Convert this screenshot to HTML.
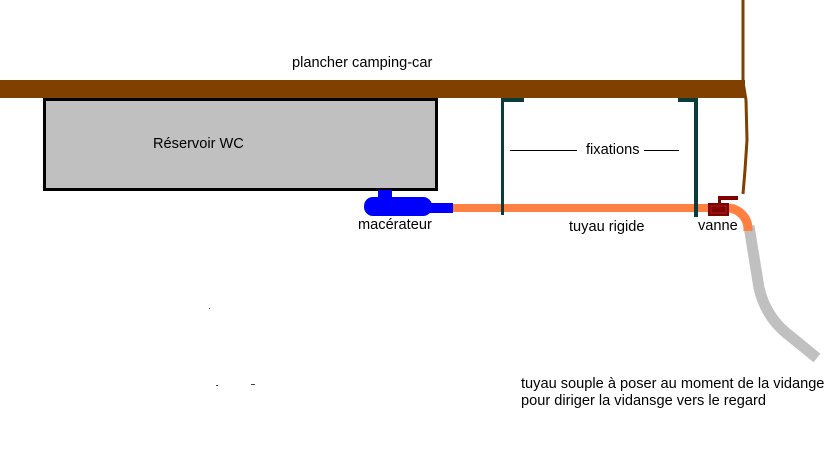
<!DOCTYPE html>
<html>
<head>
<meta charset="utf-8">
<style>
  html, body { margin:0; padding:0; background:#ffffff; }
  body { width:830px; height:466px; overflow:hidden; }
  svg { display:block; }
  text { font-family: "Liberation Sans", Arial, sans-serif; font-size:14.6px; fill:#000; }
</style>
</head>
<body>
<svg width="830" height="466" viewBox="0 0 830 466" xmlns="http://www.w3.org/2000/svg">
  <rect x="0" y="0" width="830" height="466" fill="#ffffff"/>

  <!-- vertical brown wall line -->
  <path d="M743 0 L743 82 L746 100 L747 140 L745 170 L743 194" fill="none" stroke="#7f4000" stroke-width="3"/>

  <!-- floor -->
  <rect x="0" y="80" width="745" height="18" fill="#7f4000"/>
  <text x="292" y="67">plancher camping-car</text>

  <!-- tank -->
  <rect x="44.5" y="99.5" width="392" height="90" fill="#c0c0c0" stroke="#000" stroke-width="3"/>
  <text x="153" y="148">Réservoir WC</text>

  <!-- fixations -->
  <rect x="501" y="98" width="3" height="117" fill="#0a3c3c"/>
  <rect x="501" y="98" width="23" height="4" fill="#0a3c3c"/>
  <rect x="694" y="98" width="4" height="119" fill="#0a3c3c"/>
  <rect x="678" y="98" width="20" height="4" fill="#0a3c3c"/>
  <line x1="510" y1="150.5" x2="577" y2="150.5" stroke="#000" stroke-width="1"/>
  <line x1="644" y1="150.5" x2="679" y2="150.5" stroke="#000" stroke-width="1"/>
  <text x="586" y="154">fixations</text>

  <!-- flexible hose (gray) -->
  <path d="M749 226 L759 288 Q766 318 790 336 L817 358" fill="none" stroke="#c0c0c0" stroke-width="11"/>

  <!-- rigid pipe (orange) -->
  <rect x="450" y="204" width="279" height="8" fill="#ff8040"/>
  <path d="M727 208 A21 21 0 0 1 748 229 L748 231" fill="none" stroke="#ff8040" stroke-width="9"/>
  <!-- redraw posts over pipe -->
  <rect x="501" y="200" width="3" height="15" fill="#0a3c3c"/>
  <rect x="694" y="200" width="4" height="17" fill="#0a3c3c"/>

  <!-- macerator -->
  <rect x="378" y="190" width="14" height="10" fill="#0000ff"/>
  <rect x="364" y="197" width="68" height="19" rx="9" ry="9" fill="#0000ff"/>
  <rect x="426" y="203" width="27" height="10" fill="#0000ff"/>
  <text x="358" y="229">macérateur</text>

  <!-- valve -->
  <rect x="708" y="203" width="21" height="13" fill="#800000"/>
  <rect x="711" y="206" width="15" height="7" fill="none" stroke="#a02020" stroke-width="1"/>
  <rect x="718" y="197" width="3" height="7" fill="#800000"/>
  <rect x="718" y="196" width="20" height="4" fill="#800000"/>
  <text x="698" y="230">vanne</text>

  <text x="569" y="231">tuyau rigide</text>

  <!-- specks -->
  <rect x="209" y="308" width="1" height="1" fill="#444"/>
  <rect x="216" y="385" width="2" height="1" fill="#444"/>
  <rect x="251" y="384" width="4" height="1" fill="#444"/>

  <!-- bottom note -->
  <text x="521" y="388">tuyau souple à poser au moment de la vidange</text>
  <text x="521" y="405">pour diriger la vidansge vers le regard</text>
</svg>
</body>
</html>
